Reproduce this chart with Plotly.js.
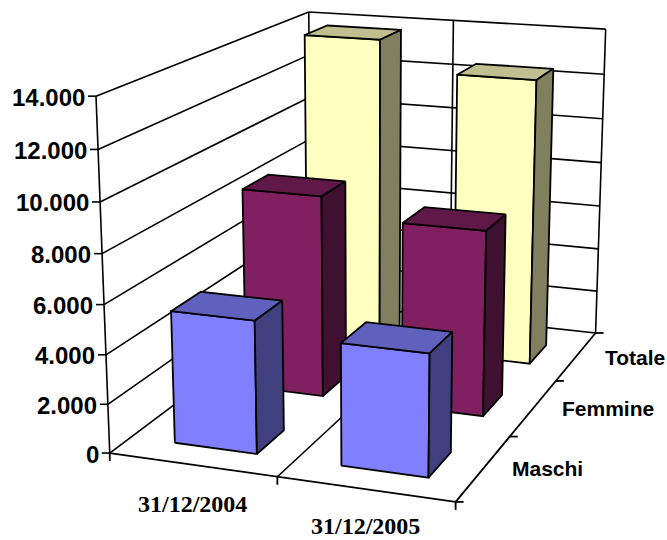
<!DOCTYPE html>
<html><head><meta charset="utf-8">
<script src="https://cdn.plot.ly/plotly-3.0.1.min.js"></script>
<style>html,body{margin:0;padding:0;background:#fff}#c{width:667px;height:540px}</style>
</head><body><div id="c"></div>
<script>
const categories = ['31/12/2004','31/12/2005'];
const seriesNames = ['Maschi','Femmine','Totale'];
const maschi = [5300,4800];
const femmine = [8500,7700];
const totale = [13800,12500];
const yTickValues = [0,2000,4000,6000,8000,10000,12000,14000];
const yTickLabels = ['0','2.000','4.000','6.000','8.000','10.000','12.000','14.000'];
const seriesValues = [maschi,femmine,totale];
const faceColors = [['#8080FF','#6060BF','#40407F'],['#802060','#601848','#401030'],['#FFFFC0','#BFBF90','#80805F']];
const zMax = 14000;
const barFoot = -120; // the bars stand slightly below the floor line

// camera calibration: [u,v,z, pageX,pageY]
const calib=[[0,0,0,110,454],[0,0,1/7,108,404],[0,0,2/7,106,354],[0,0,3/7,104,304],[0,0,4/7,102,254],[0,0,5/7,100,202],[0,0,6/7,98,150],[0,0,1,96,96],
 [1,1,0,596,332],[1,1,1/7,597,293],[1,1,2/7,598,248],[1,1,3/7,600,207],[1,1,4/7,601,162],[1,1,5/7,603,118],[1,1,6/7,604,74],[1,1,1,606,30],
 [1,0,0,456,502],[.5,0,0,277,477],[1,1/3,0,510,436],[1,2/3,0,555,381],[0,1,1,309,12],[.5,1,1,453,20]];
function solve(A,B){const n=B.length;for(let i=0;i<n;i++){let m=i;for(let r=i+1;r<n;r++)if(Math.abs(A[r][i])>Math.abs(A[m][i]))m=r;
  [A[i],A[m]]=[A[m],A[i]];[B[i],B[m]]=[B[m],B[i]];
  for(let r=i+1;r<n;r++){const k=A[r][i]/A[i][i];for(let c=i;c<n;c++)A[r][c]-=k*A[i][c];B[r]-=k*B[i];}}
  const x=Array(n).fill(0);for(let i=n-1;i>=0;i--){let s=B[i];for(let c=i+1;c<n;c++)s-=A[i][c]*x[c];x[i]=s/A[i][i];}return x;}
const rows=[],rhs=[];
calib.forEach(([u,v,z,X,Y])=>{
  rows.push([u,v,z,1,0,0,0,0,-X*u,-X*v,-X*z]);rhs.push(X);
  rows.push([0,0,0,0,u,v,z,1,-Y*u,-Y*v,-Y*z]);rhs.push(Y);
});
const N=Array.from({length:11},(_,i)=>Array.from({length:11},(_,j)=>rows.reduce((s,r)=>s+r[i]*r[j],0)));
const R=Array.from({length:11},(_,i)=>rows.reduce((s,r,k)=>s+r[i]*rhs[k],0));
const m=solve(N,R);
function P(u,v,val){const z=val/zMax,w=m[8]*u+m[9]*v+m[10]*z+1;return [(m[0]*u+m[1]*v+m[2]*z+m[3])/w,(m[4]*u+m[5]*v+m[6]*z+m[7])/w];}

const traces=[];
function line(pts,width){
  const xs=[],ys=[];
  pts.forEach(s=>{s.forEach(p=>{xs.push(p[0]);ys.push(p[1]);});xs.push(null);ys.push(null);});
  traces.push({type:'scatter',mode:'lines',x:xs,y:ys,line:{color:'#000',width:width},hoverinfo:'skip',showlegend:false});
}
const segs=[];
yTickValues.forEach(t=>{
  segs.push([P(0,0,t),P(0,1,t)]);
  segs.push([P(0,1,t),P(1,1,t)]);
  const p=P(0,0,t);segs.push([[p[0]-8,p[1]],p]);
});
segs.push([P(0,0,0),P(0,0,zMax)]);
segs.push([P(0,1,0),P(0,1,zMax)]);
segs.push([P(.5,1,0),P(.5,1,zMax)]);
segs.push([P(1,1,0),P(1,1,zMax)]);
segs.push([P(.5,0,0),P(.5,1,0)]);
line(segs,1.6);
const axisSegs=[[P(0,0,0),P(1,0,0)],[P(1,0,0),P(1,1,0)]];
[0,.5,1].forEach(u=>{const p=P(u,0,0);axisSegs.push([p,[p[0],p[1]+8]]);});
[0,1/3,2/3,1].forEach(v=>{const p=P(1,v,0);axisSegs.push([p,[p[0]+8,p[1]]]);});
line(axisSegs,1.8);

function face(pts,col){
  traces.push({type:'scatter',mode:'lines',x:pts.map(p=>p[0]).concat(pts[0][0]),y:pts.map(p=>p[1]).concat(pts[0][1]),
    fill:'toself',fillcolor:col,line:{color:'#000',width:1.8},hoverinfo:'skip',showlegend:false});
}
for(let s=seriesNames.length-1;s>=0;s--){
  for(let k=0;k<categories.length;k++){
    const val=seriesValues[s][k];
    const u0=(k+.25)/categories.length,u1=(k+.75)/categories.length;
    const v0=(s+.305)/seriesNames.length,v1=(s+.695)/seriesNames.length;
    const cols=faceColors[s];
    face([P(u0,v0,barFoot),P(u1,v0,barFoot),P(u1,v0,val),P(u0,v0,val)],cols[0]);
    face([P(u0,v0,val),P(u1,v0,val),P(u1,v1,val),P(u0,v1,val)],cols[1]);
    face([P(u1,v0,barFoot),P(u1,v1,barFoot),P(u1,v1,val),P(u1,v0,val)],cols[2]);
  }
}
const ann=[];
const sans='"Liberation Sans",Arial,sans-serif',serif='"Liberation Serif","Times New Roman",serif';
function label(t,x,y,anchor,fam,size){ann.push({text:'<b>'+t+'</b>',x:x,y:y,xref:'x',yref:'y',xanchor:anchor,yanchor:'middle',showarrow:false,font:{family:fam,size:size,color:'#000'}});}
yTickValues.forEach((t,i)=>{const p=P(0,0,t);label(yTickLabels[i],p[0]-9,p[1]+1,'right',sans,24);});
categories.forEach((t,i)=>{const p=P((i+.5)/categories.length,0,0);label(t,p[0],p[1]+39-2.5*i,'center',serif,24);});
seriesNames.forEach((t,i)=>{const p=P(1,(i+.5)/seriesNames.length,0);label(t,p[0]+26.5,p[1]+1,'left',sans,21);});
Plotly.newPlot('c',traces,{width:667,height:540,margin:{l:0,r:0,t:0,b:0},paper_bgcolor:'#fff',plot_bgcolor:'#fff',showlegend:false,
  xaxis:{range:[0,667],visible:false,fixedrange:true},yaxis:{range:[540,0],visible:false,fixedrange:true},annotations:ann},{displayModeBar:false,staticPlot:true});
</script></body></html>
